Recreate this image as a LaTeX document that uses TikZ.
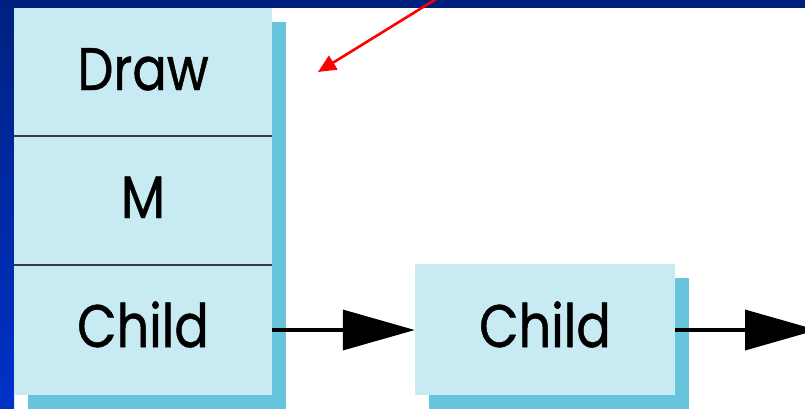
\documentclass[tikz,border=0pt]{standalone}
\usepackage{fontspec}
\setmainfont{Poppins}[FakeStretch=0.85,FakeBold=0.8]
\usepackage{tikz}
\usetikzlibrary{arrows.meta,shadows}
\definecolor{AzulFondo}{RGB}{0,32,128}
\definecolor{AzulBorde}{RGB}{0,50,200}
\definecolor{CelesteCaja}{RGB}{200,234,242}
\definecolor{CelesteSombra}{RGB}{104,196,220}
\definecolor{GrisLinea}{RGB}{55,60,65}

\tikzset{
  caja/.style={fill=CelesteCaja,inner sep=0pt,
    drop shadow={shadow xshift=14pt,shadow yshift=-14pt,fill=CelesteSombra,opacity=1}},
  rotulo/.style={font=\fontsize{60}{60}\selectfont,anchor=base},
  enlace/.style={-{Triangle[length=72pt,width=40pt]},line width=3.5pt},
}

\begin{document}
\begin{tikzpicture}[x=1pt,y=-1pt]
  \useasboundingbox (0,0) rectangle (805,408);
  % fondo azul del marco
  \fill[AzulFondo] (0,0) rectangle (805,8);
  \shade[top color=AzulFondo,bottom color=AzulBorde] (0,0) rectangle (14,408);

  % caja grande con sus tres campos
  \node[caja,minimum width=258pt,minimum height=387pt] (objeto) at (143,201.5) {};
  \draw[GrisLinea,line width=1.5pt] (objeto.west |- 0,136) -- (objeto.east |- 0,136);
  \draw[GrisLinea,line width=1.5pt] (objeto.west |- 0,265) -- (objeto.east |- 0,265);
  \node[rotulo] (draw) at (143,90) {Draw};
  \node[rotulo] (m) at (143,218) {M};
  \node[rotulo] (hijo) at (143,347) {Child};

  % caja pequena
  \node[caja,minimum width=260pt,minimum height=131pt] (siguiente) at (545,329.5) {};
  \node[rotulo] (hijo2) at (545,347) {Child};

  \coordinate (salida) at (272,330);
  \coordinate (fin) at (817,330);
  \coordinate (origen) at (441,-4);
  \coordinate (punta) at (318,72);

  \draw[enlace] (salida) -- (siguiente.west |- salida);
  \draw[enlace] (siguiente.east |- salida) -- (fin);
  \draw[-{Triangle[length=18pt,width=16pt]},red,line width=2.6pt] (origen) -- (punta);
\end{tikzpicture}
\end{document}
